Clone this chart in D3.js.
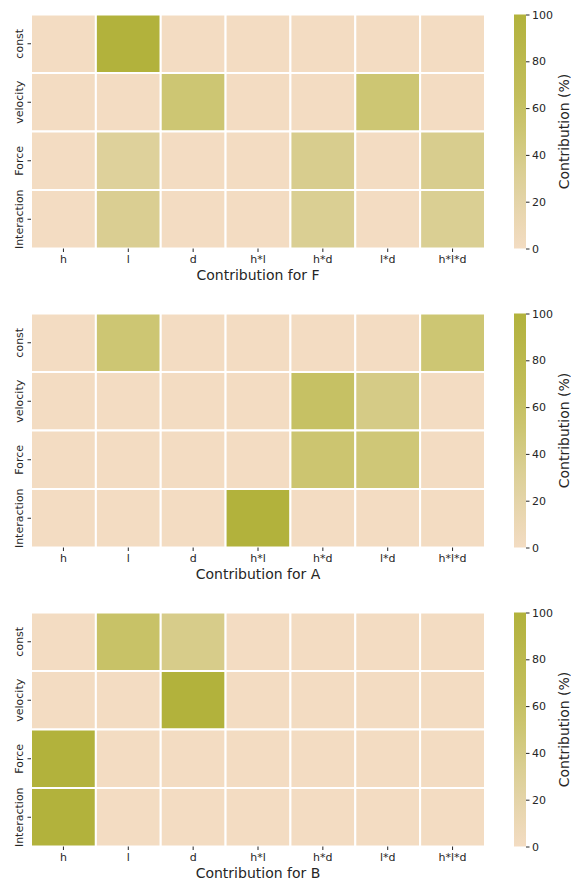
<!DOCTYPE html>
<html>
<head>
<meta charset="utf-8">
<script src="https://cdn.jsdelivr.net/npm/d3@7"></script>
<style>
  html, body { margin: 0; padding: 0; background: #fff; }
  svg, svg text { font-family: "DejaVu Sans", "Noto Sans", sans-serif !important; }
</style>
</head>
<body>
<svg id="chart" width="571" height="881"></svg>
<script>
// Terms (columns) and components (rows) of the contribution tables
const terms = ["h", "l", "d", "h*l", "h*d", "l*d", "h*l*d"];
const components = ["const", "velocity", "Force", "Interaction"];
const targets = ["F", "A", "B"];

// Contribution (%) per component row, one array per target
const valuesF = [
  [0, 100, 0, 0, 0, 0, 0],
  [0, 0, 50, 0, 0, 50, 0],
  [0, 28, 0, 0, 36, 0, 36],
  [0, 34, 0, 0, 33, 0, 33]
];
const valuesA = [
  [0, 50, 0, 0, 0, 0, 50],
  [0, 0, 0, 0, 60, 40, 0],
  [0, 0, 0, 0, 52, 48, 0],
  [0, 0, 0, 100, 0, 0, 0]
];
const valuesB = [
  [0, 58, 38, 0, 0, 0, 0],
  [0, 0, 100, 0, 0, 0, 0],
  [100, 0, 0, 0, 0, 0, 0],
  [100, 0, 0, 0, 0, 0, 0]
];
const colorbarTicks = [0, 20, 40, 60, 80, 100];

const panels = [valuesF, valuesA, valuesB];

// Wheat-to-olive colour map
const color = d3.scaleLinear()
  .domain([0, 20, 35, 50, 65, 100])
  .range(["#f3dcc2", "#e4d4a8", "#d9ce90", "#cdc673", "#c3be5c", "#b2b23c"])
  .interpolate(d3.interpolateRgb)
  .clamp(true);

const svg = d3.select("#chart");
const textColor = "#262626";
const font = "'DejaVu Sans', sans-serif";
const tickFont = 11;
const labelFont = 14;

const left = 31, right = 485;
const panelHeight = 234;
const panelTops = [14.5, 313.5, 612.5];
const cbX = 514, cbW = 12;

panels.forEach((vals, p) => {
  const top = panelTops[p];
  const g = svg.append("g");

  const x = d3.scaleBand().domain(terms).range([left, right]);
  const y = d3.scaleBand().domain(components).range([top, top + panelHeight]);

  const cells = [];
  vals.forEach((row, i) => row.forEach((v, j) => cells.push({ r: components[i], c: terms[j], v })));

  g.selectAll("rect.cell").data(cells).join("rect")
    .attr("class", "cell")
    .attr("x", d => x(d.c))
    .attr("y", d => y(d.r))
    .attr("width", x.bandwidth())
    .attr("height", y.bandwidth())
    .attr("fill", d => color(d.v))
    .attr("stroke", "#fff")
    .attr("stroke-width", 2);

  // x axis
  const xAxis = g.append("g")
    .attr("transform", `translate(0,${top + panelHeight})`)
    .call(d3.axisBottom(x).tickSize(3.5).tickPadding(3));
  xAxis.attr("font-family", font);
  xAxis.select(".domain").remove();
  xAxis.selectAll("line").attr("stroke", textColor).attr("stroke-width", 1);
  xAxis.selectAll("text").attr("fill", textColor).attr("font-size", tickFont);

  // y axis, labels turned vertical
  const yAxis = g.append("g")
    .attr("transform", `translate(${left},0)`)
    .call(d3.axisLeft(y).tickSize(3.5).tickPadding(3));
  yAxis.attr("font-family", font);
  yAxis.select(".domain").remove();
  yAxis.selectAll("line").attr("stroke", textColor).attr("stroke-width", 1);
  yAxis.selectAll("text")
    .attr("fill", textColor).attr("font-size", tickFont)
    .attr("x", null).attr("dy", null)
    .attr("text-anchor", "middle")
    .attr("transform", "translate(-8,0) rotate(-90)");

  // axis title
  g.append("text")
    .attr("x", (left + right) / 2)
    .attr("y", top + panelHeight + 31)
    .attr("text-anchor", "middle")
    .attr("font-family", font)
    .attr("font-size", labelFont)
    .attr("fill", textColor)
    .text(`Contribution for ${targets[p]}`);

  // colour bar
  const gradId = `grad${p}`;
  const grad = svg.append("defs").append("linearGradient")
    .attr("id", gradId).attr("x1", 0).attr("y1", 1).attr("x2", 0).attr("y2", 0);
  d3.range(0, 101, 5).forEach(v => {
    grad.append("stop").attr("offset", `${v}%`).attr("stop-color", color(v));
  });
  g.append("rect")
    .attr("x", cbX).attr("y", top)
    .attr("width", cbW).attr("height", panelHeight)
    .attr("fill", `url(#${gradId})`);

  const cbScale = d3.scaleLinear().domain([0, 100]).range([top + panelHeight, top]);
  const cbAxis = g.append("g")
    .attr("transform", `translate(${cbX + cbW},0)`)
    .call(d3.axisRight(cbScale).tickValues(colorbarTicks).tickSize(3.5).tickPadding(2.5));
  cbAxis.attr("font-family", font);
  cbAxis.select(".domain").remove();
  cbAxis.selectAll("line").attr("stroke", textColor);
  cbAxis.selectAll("text").attr("fill", textColor).attr("font-size", tickFont);

  g.append("text")
    .attr("transform", `translate(569,${top + panelHeight / 2}) rotate(-90)`)
    .attr("text-anchor", "middle")
    .attr("font-family", font)
    .attr("font-size", labelFont)
    .attr("fill", textColor)
    .text("Contribution (%)");
});
</script>
</body>
</html>
